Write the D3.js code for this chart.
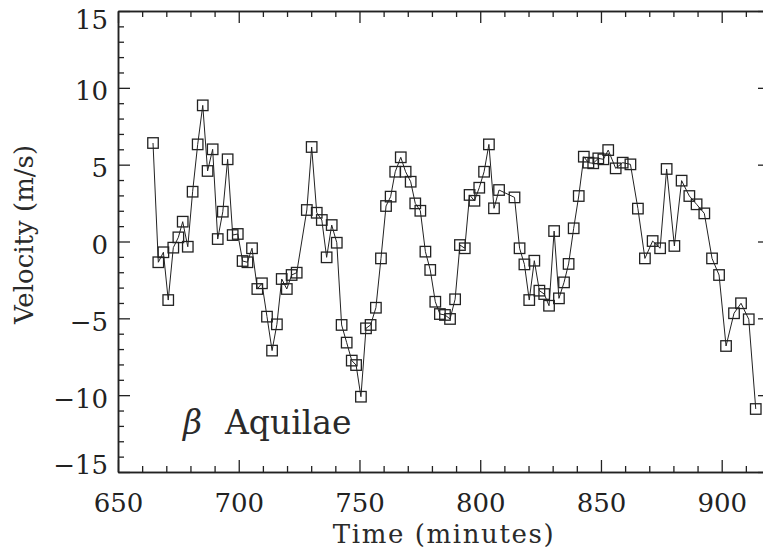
<!DOCTYPE html>
<html>
<head>
<meta charset="utf-8">
<script src="https://cdn.jsdelivr.net/npm/d3@7"></script>
<style>
  body { margin: 0; background: #fff; }
  svg { display: block; }
  text { font-family: "DejaVu Serif", serif; fill: #222; }
</style>
</head>
<body>
<script>
    // time (minutes) and radial velocity (m/s)
    var times = [
        664.5, 666.7, 668.8, 670.8, 672.9, 675.0, 676.8, 678.9, 680.9, 683.0,
        685.1, 687.1, 689.2, 691.3, 693.4, 695.4, 697.5, 699.6, 701.6, 703.6,
        705.5, 707.7, 709.6, 711.7, 713.8, 715.8, 717.8, 719.9, 721.9, 724.0,
        728.2, 730.2, 732.3, 734.4, 736.4, 738.5, 740.6, 742.6, 744.7, 746.8,
        748.6, 750.6, 752.7, 754.6, 756.8, 758.9, 761.0, 762.9, 764.8, 767.1,
        769.1, 771.2, 773.1, 775.2, 777.3, 779.3, 781.4, 783.3, 785.4, 787.5,
        789.6, 791.6, 793.6, 795.6, 797.6, 799.6, 801.6, 803.6, 805.7, 807.8,
        814.2, 816.3, 818.3, 820.3, 822.4, 824.5, 826.5, 828.5, 830.6, 832.6,
        834.7, 836.6, 838.7, 840.8, 842.9, 844.8, 846.8, 848.9, 851.0, 853.0,
        856.1, 859.0, 862.2, 865.3, 868.2, 871.4, 874.5, 877.2, 880.4, 883.4,
        886.6, 889.6, 892.8, 896.0, 898.9, 901.8, 905.1, 908.0, 911.2, 914.1
    ];
    var velocity = [
        6.41, -1.35, -0.70, -3.81, -0.40, 0.27, 1.29, -0.34, 3.24, 6.32,
        8.86, 4.59, 6.00, 0.16, 1.94, 5.35, 0.42, 0.49, -1.27, -1.35,
        -0.44, -3.09, -2.72, -4.89, -7.10, -5.39, -2.44, -3.09, -2.18, -2.03,
        2.05, 6.15, 1.87, 1.40, -1.03, 1.07, -0.08, -5.43, -6.58, -7.75,
        -8.04, -10.10, -5.65, -5.43, -4.31, -1.10, 2.31, 2.92, 4.54, 5.48,
        4.54, 3.89, 2.48, 2.00, -0.66, -1.85, -3.92, -4.72, -4.78, -5.04,
        -3.76, -0.23, -0.44, 3.03, 2.65, 3.50, 4.54, 6.32, 2.16, 3.35,
        2.87, -0.44, -1.49, -3.81, -1.25, -3.20, -3.42, -4.18, 0.68, -3.70,
        -2.66, -1.46, 0.86, 2.96, 5.52, 5.13, 5.09, 5.41, 5.35, 5.95,
        4.76, 5.13, 5.02, 2.14, -1.10, 0.03, -0.44, 4.72, -0.29, 3.96,
        2.96, 2.42, 1.83, -1.10, -2.18, -6.80, -4.67, -4.02, -5.06, -10.90
    ];

    var xTicks = [650, 700, 750, 800, 850, 900];
    var yTicks = [-15, -10, -5, 0, 5, 10, 15];
    var xMinor = d3.range(650, 921, 10).filter(function (d) { return d % 50 !== 0; });
    var yMinor = d3.range(-15, 16, 1).filter(function (d) { return d % 5 !== 0; });

    var W = 763, H = 552;
    var margin = {left: 118, top: 11, right: -7, bottom: 80};
    var w = W - margin.left - margin.right,
        h = H - margin.top - margin.bottom;

    var x = d3.scaleLinear().domain([650, 920]).range([0, w]);
    var y = d3.scaleLinear().domain([-15, 15]).range([h, 0]);

    var svg = d3.select('body').append('svg')
            .attr('width', W)
            .attr('height', H)
            .style('overflow', 'hidden');

    var g = svg.append('g')
            .attr('transform', 'translate(' + margin.left + ',' + margin.top + ')');

    function fmt(d) { return d < 0 ? '\u2212' + Math.abs(d) : '' + d; }

    // AXES: major + minor ticks on all four sides, pointing inward
    function styleAxis(sel) {
        sel.selectAll('path').attr('stroke', '#222').attr('stroke-width', 1.5);
        sel.selectAll('line').attr('stroke', '#222').attr('stroke-width', 1.3);
        sel.selectAll('text').attr('font-family', '"DejaVu Serif", serif')
                .attr('font-size', 26).attr('fill', '#2a2a2a');
    }

    var bottom = g.append('g').attr('transform', 'translate(0,' + h + ')')
            .call(d3.axisBottom(x).tickValues(xTicks).tickFormat(fmt)
                    .tickSize(-12).tickSizeOuter(0).tickPadding(40));
    bottom.call(styleAxis);
    bottom.selectAll('text').attr('dy', 0).attr('y', 40);

    g.append('g').attr('transform', 'translate(0,' + h + ')')
            .call(d3.axisBottom(x).tickValues(xMinor).tickFormat('')
                    .tickSize(-6).tickSizeOuter(0)).call(styleAxis);

    g.append('g')
            .call(d3.axisTop(x).tickValues(xTicks).tickFormat('')
                    .tickSize(-12).tickSizeOuter(0)).call(styleAxis);
    g.append('g')
            .call(d3.axisTop(x).tickValues(xMinor).tickFormat('')
                    .tickSize(-6).tickSizeOuter(0)).call(styleAxis);

    var left = g.append('g')
            .call(d3.axisLeft(y).tickValues(yTicks).tickFormat(fmt)
                    .tickSize(-12).tickSizeOuter(0).tickPadding(10));
    left.call(styleAxis);
    // end labels sit inside the frame, like the original
    left.selectAll('text').attr('dy', 0).attr('y', function (d) {
        return d === 15 ? 17 : (d === -15 ? 1 : 12);
    });

    g.append('g')
            .call(d3.axisLeft(y).tickValues(yMinor).tickFormat('')
                    .tickSize(-6).tickSizeOuter(0)).call(styleAxis);

    g.append('g').attr('transform', 'translate(' + w + ',0)')
            .call(d3.axisRight(y).tickValues(yTicks).tickFormat('')
                    .tickSize(-12).tickSizeOuter(0)).call(styleAxis);
    g.append('g').attr('transform', 'translate(' + w + ',0)')
            .call(d3.axisRight(y).tickValues(yMinor).tickFormat('')
                    .tickSize(-6).tickSizeOuter(0)).call(styleAxis);

    // DATA: line + open squares
    var pts = times.map(function (t, i) { return [t, velocity[i]]; });

    g.append('path')
            .datum(pts)
            .attr('fill', 'none')
            .attr('stroke', '#222')
            .attr('stroke-width', 1)
            .attr('d', d3.line()
                    .x(function (d) { return x(d[0]); })
                    .y(function (d) { return y(d[1]); }));

    var s = 10.5;
    g.selectAll('rect.pt')
            .data(pts)
            .enter().append('rect')
            .attr('class', 'pt')
            .attr('x', function (d) { return x(d[0]) - s / 2; })
            .attr('y', function (d) { return y(d[1]) - s / 2; })
            .attr('width', s)
            .attr('height', s)
            .attr('fill', 'none')
            .attr('stroke', '#222')
            .attr('stroke-width', 1.3);

    // TITLES
    svg.append('text')
            .attr('x', margin.left + w / 2)
            .attr('y', 543)
            .attr('text-anchor', 'middle')
            .attr('font-size', 26)
            .attr('letter-spacing', 1.6)
            .style('fill', '#2a2a2a')
            .text('Time (minutes)');

    svg.append('text')
            .attr('transform', 'translate(33,' + (margin.top + y(0) - 7) + ') rotate(-90)')
            .attr('text-anchor', 'middle')
            .attr('font-size', 26)
            .style('fill', '#2a2a2a')
            .text('Velocity (m/s)');

    var lab = svg.append('text')
            .attr('x', 183)
            .attr('y', 434)
            .attr('font-size', 33)
            .style('fill', '#2a2a2a');
    lab.append('tspan').attr('font-style', 'italic').text('\u03b2');
    lab.append('tspan').attr('x', 225).text('Aquilae');
</script>
</body>
</html>
